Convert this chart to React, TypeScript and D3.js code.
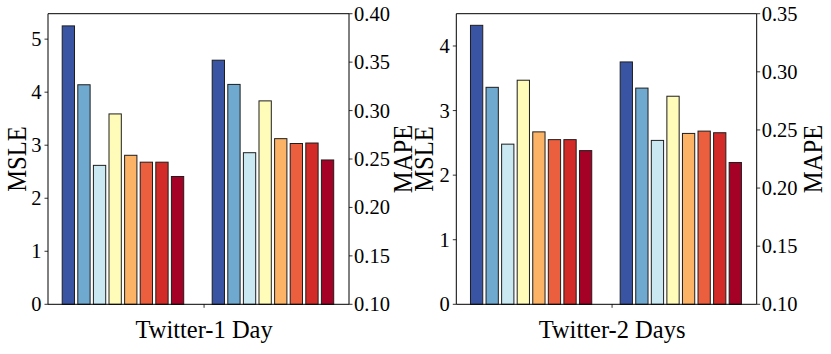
import React from 'react';
import * as d3 from 'd3';

const colors = ['#3a54a4', '#70a9cf', '#c9e8f2', '#fffbb9', '#fdb366', '#eb5e3e', '#d32b27', '#a50026'];
const panelLabels = ['Twitter-1 Day', 'Twitter-2 Days'];
const msle1 = [5.25, 4.14, 2.62, 3.59, 2.81, 2.68, 2.68, 2.41];
const mape1 = [0.352, 0.327, 0.2565, 0.31, 0.271, 0.266, 0.2665, 0.249];
const msle2 = [4.32, 3.36, 2.48, 3.47, 2.67, 2.55, 2.55, 2.38];
const mape2 = [0.3085, 0.286, 0.241, 0.279, 0.247, 0.249, 0.2476, 0.222];
const msleTicks1 = [0, 1, 2, 3, 4, 5];
const mapeTicks1 = [0.1, 0.15, 0.2, 0.25, 0.3, 0.35, 0.4];
const msleTicks2 = [0, 1, 2, 3, 4];
const mapeTicks2 = [0.1, 0.15, 0.2, 0.25, 0.3, 0.35];
const msleMax = [5.48, 4.5];
const mapeDomains = [[0.1, 0.4], [0.1, 0.35]];

const FONT = '"Liberation Serif", "Times New Roman", serif';
const TOP = 13.7;
const BOTTOM = 304.3;

type PanelProps = {
  x0: number;
  x1: number;
  msle: number[];
  mape: number[];
  msleTop: number;
  mapeDomain: number[];
  leftTicks: number[];
  rightTicks: number[];
  label: string;
  leftLabelX: number;
  rightLabelX: number;
};

function Panel(p: PanelProps) {
  const x = d3.scaleLinear().domain([-1.305, 17.99]).range([p.x0, p.x1]);
  const yL = d3.scaleLinear().domain([0, p.msleTop]).range([BOTTOM, TOP]);
  const yR = d3.scaleLinear().domain(p.mapeDomain).range([BOTTOM, TOP]);
  const bw = 0.853;
  const offset2 = 9.615;
  const tickPos = 8.7;
  const midY = (TOP + BOTTOM) / 2;
  const w = x(bw) - x(0);
  const bars: JSX.Element[] = [];
  p.msle.forEach((v, i) => {
    const xl = x(i - bw / 2);
    bars.push(
      <rect key={'a' + i} x={xl + 0.5} y={yL(v)} width={w - 1} height={BOTTOM - yL(v)}
        fill={colors[i]} stroke="#1e1e1e" strokeWidth={1} />
    );
  });
  p.mape.forEach((v, i) => {
    const xl = x(offset2 + i - bw / 2);
    bars.push(
      <rect key={'b' + i} x={xl + 0.5} y={yR(v)} width={w - 1} height={BOTTOM - yR(v)}
        fill={colors[i]} stroke="#1e1e1e" strokeWidth={1} />
    );
  });
  const fmtR = d3.format('.2f');
  return (
    <g>
      {bars}
      <line x1={p.x0} x2={p.x1} y1={TOP} y2={TOP} stroke="#000" strokeWidth={1} />
      <line x1={p.x0} x2={p.x1} y1={BOTTOM} y2={BOTTOM} stroke="#000" strokeWidth={1} />
      <line x1={p.x0} x2={p.x0} y1={TOP} y2={BOTTOM} stroke="#000" strokeWidth={1} />
      <line x1={p.x1} x2={p.x1} y1={TOP} y2={BOTTOM} stroke="#000" strokeWidth={1} />
      {p.leftTicks.map((t) => (
        <g key={'l' + t}>
          <line x1={p.x0 - 3.5} x2={p.x0} y1={yL(t)} y2={yL(t)} stroke="#000" strokeWidth={0.8} />
          <text x={p.x0 - 6.5} y={yL(t)} dy="0.34em" textAnchor="end" fontFamily={FONT} fontSize={20.5}>
            {t}
          </text>
        </g>
      ))}
      {p.rightTicks.map((t) => (
        <g key={'r' + t}>
          <line x1={p.x1} x2={p.x1 + 3.5} y1={yR(t)} y2={yR(t)} stroke="#000" strokeWidth={0.8} />
          <text x={p.x1 + 5} y={yR(t)} dy="0.34em" textAnchor="start" fontFamily={FONT} fontSize={20.5}>
            {fmtR(t)}
          </text>
        </g>
      ))}
      <line x1={x(tickPos)} x2={x(tickPos)} y1={BOTTOM} y2={BOTTOM + 3.5} stroke="#000" strokeWidth={0.8} />
      <text x={x(tickPos)} y={338} textAnchor="middle" fontFamily={FONT} fontSize={24.5}>
        {p.label}
      </text>
      <text transform={`translate(${p.leftLabelX},${midY}) rotate(-90) scale(0.88,1)`} textAnchor="middle"
        dy="0.35em" fontFamily={FONT} fontSize={28}>MSLE</text>
      <text transform={`translate(${p.rightLabelX},${midY}) rotate(-90) scale(0.88,1)`} textAnchor="middle"
        dy="0.35em" fontFamily={FONT} fontSize={28}>MAPE</text>
    </g>
  );
}

export default function App() {
  return (
    <svg width={831} height={354} style={{ position: 'absolute', left: 0, top: 0, background: '#fff' }}>
      <rect x={0} y={0} width={831} height={354} fill="#fff" />
      <Panel x0={48} x1={349} msle={msle1} mape={mape1} msleTop={msleMax[0]} mapeDomain={mapeDomains[0]}
        leftTicks={msleTicks1} rightTicks={mapeTicks1} label={panelLabels[0]} leftLabelX={16} rightLabelX={402} />
      <Panel x0={456.3} x1={756.7} msle={msle2} mape={mape2} msleTop={msleMax[1]} mapeDomain={mapeDomains[1]}
        leftTicks={msleTicks2} rightTicks={mapeTicks2} label={panelLabels[1]} leftLabelX={423} rightLabelX={812} />
    </svg>
  );
}
